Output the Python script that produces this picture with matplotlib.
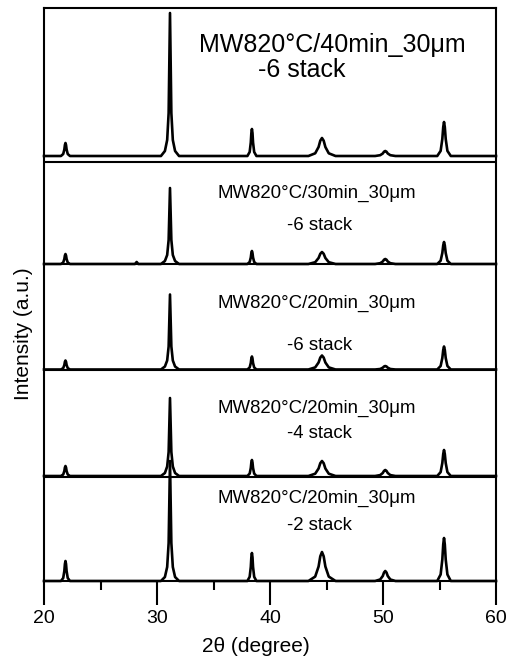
import matplotlib
matplotlib.use('Agg')
import matplotlib.pyplot as plt
from matplotlib.ticker import MultipleLocator, NullLocator

plt.rcParams['font.family'] = ['Liberation Sans', 'DejaVu Sans']

# shared 2-theta grid: baseline ends + points across each reflection
two_theta = ([20.0]
             + [21.5, 21.7, 21.8, 21.85, 21.9, 21.95, 22.0, 22.1, 22.3]
             + [28.05, 28.2, 28.35]
             + [30.35, 30.7, 30.9, 31.03, 31.15, 31.27, 31.4, 31.6, 31.95]
             + [38.0, 38.2, 38.3, 38.35, 38.4, 38.45, 38.5, 38.6, 38.8]
             + [43.4, 44.0, 44.3, 44.45, 44.6, 44.75, 44.9, 45.2, 45.8]
             + [49.3, 49.75, 49.98, 50.09, 50.2, 50.31, 50.42, 50.65, 51.1]
             + [54.8, 55.1, 55.25, 55.33, 55.4, 55.47, 55.55, 55.7, 56.0]
             + [60.0])

int_40min_6 = ([0]
               + [0, 2, 6.5, 11, 13, 11, 6.5, 2, 0]
               + [0, 0, 0]
               + [0, 5, 16, 43, 143, 43, 16, 5, 0]
               + [0, 4, 13.5, 23, 27, 23, 13.5, 4, 0]
               + [0, 2.7, 9, 15.3, 18, 15.3, 9, 2.7, 0]
               + [0, 0.8, 2.5, 4.3, 5, 4.3, 2.5, 0.8, 0]
               + [0, 5.1, 17, 29, 34, 29, 17, 5.1, 0]
               + [0])

int_30min_6 = ([0]
               + [0, 1.5, 5, 8.5, 10, 8.5, 5, 1.5, 0]
               + [0, 2, 0]
               + [0, 3, 9, 24, 76, 24, 9, 3, 0]
               + [0, 2, 6.5, 11, 13, 11, 6.5, 2, 0]
               + [0, 1.8, 6, 10.2, 12, 10.2, 6, 1.8, 0]
               + [0, 0.8, 2.5, 4.3, 5, 4.3, 2.5, 0.8, 0]
               + [0, 3.3, 11, 18.7, 22, 18.7, 11, 3.3, 0]
               + [0])

int_20min_6 = ([0]
               + [0, 1.4, 4.5, 7.7, 9, 7.7, 4.5, 1.4, 0]
               + [0, 0, 0]
               + [0, 3, 9, 23, 75, 23, 9, 3, 0]
               + [0, 2, 6.5, 11, 13, 11, 6.5, 2, 0]
               + [0, 2.1, 7, 11.9, 14, 11.9, 7, 2.1, 0]
               + [0, 0.5, 1.8, 3, 3.5, 3, 1.8, 0.5, 0]
               + [0, 3.5, 11.5, 19.6, 23, 19.6, 11.5, 3.5, 0]
               + [0])

int_20min_4 = ([0]
               + [0, 1.5, 5, 8.5, 10, 8.5, 5, 1.5, 0]
               + [0, 0, 0]
               + [0, 3, 9.5, 24, 78, 24, 9.5, 3, 0]
               + [0, 2.4, 8, 13.6, 16, 13.6, 8, 2.4, 0]
               + [0, 2.3, 7.5, 12.8, 15, 12.8, 7.5, 2.3, 0]
               + [0, 0.9, 3, 5.1, 6, 5.1, 3, 0.9, 0]
               + [0, 3.9, 13, 22.1, 26, 22.1, 13, 3.9, 0]
               + [0])

int_20min_2 = ([0]
               + [0, 3, 10, 17, 20, 17, 10, 3, 0]
               + [0, 0, 0]
               + [0, 4, 14, 38, 120, 38, 14, 4, 0]
               + [0, 4.2, 14, 23.8, 28, 23.8, 14, 4.2, 0]
               + [0, 4.4, 14.5, 24.7, 29, 24.7, 14.5, 4.4, 0]
               + [0, 1.5, 5, 8.5, 10, 8.5, 5, 1.5, 0]
               + [0, 6.5, 21.5, 36.6, 43, 36.6, 21.5, 6.5, 0]
               + [0])

# bottom to top
patterns = [int_20min_2, int_20min_4, int_20min_6, int_30min_6, int_40min_6]
offsets = [0, 105, 211.5, 317, 425]
separators = [104, 211, 317, 419]

labels = ['MW820°C/20min_30μm', 'MW820°C/20min_30μm', 'MW820°C/20min_30μm',
          'MW820°C/30min_30μm']
stacks = ['-2 stack', '-4 stack', '-6 stack', '-6 stack']
label_y = [83, 173, 278, 388]
stack_y = [56, 147, 236, 355]

fig = plt.figure(figsize=(5.07, 6.6), dpi=100)
ax = fig.add_axes([44/507, 79/660, 452/507, 573/660])

for y, off in zip(patterns, offsets):
    ax.plot(two_theta, [v + off for v in y], color='black', lw=1.9,
            solid_joinstyle='round', clip_on=False, zorder=3)

for s in separators:
    ax.axhline(s, color='black', lw=1.5, zorder=2)

for lab, st, ly, sy in zip(labels, stacks, label_y, stack_y):
    ax.text(0.604, ly, lab, transform=ax.get_yaxis_transform(), ha='center',
            va='center', fontsize=13.4)
    ax.text(0.61, sy, st, transform=ax.get_yaxis_transform(), ha='center',
            va='center', fontsize=13.4)

ax.text(0.637, 536, 'MW820°C/40min_30μm', transform=ax.get_yaxis_transform(),
        ha='center', va='center', fontsize=18)
ax.text(0.571, 511, '-6 stack', transform=ax.get_yaxis_transform(),
        ha='center', va='center', fontsize=18)

ax.set_xlim(20, 60)
ax.set_ylim(0, 573)
ax.xaxis.set_major_locator(MultipleLocator(10))
ax.xaxis.set_minor_locator(MultipleLocator(5))
ax.yaxis.set_major_locator(NullLocator())
ax.tick_params(axis='x', which='major', direction='out', length=17, width=1.5,
               labelsize=14, pad=4)
ax.tick_params(axis='x', which='minor', direction='out', length=6.5, width=1.5)
for sp in ax.spines.values():
    sp.set_linewidth(1.5)

ax.set_xlabel('2θ (degree)', fontsize=15)
ax.xaxis.set_label_coords(0.469, -0.097)
ax.set_ylabel('Intensity (a.u.)', fontsize=15)
ax.yaxis.set_label_coords(-0.024, 0.431)

fig.savefig('out.png', dpi=100)
